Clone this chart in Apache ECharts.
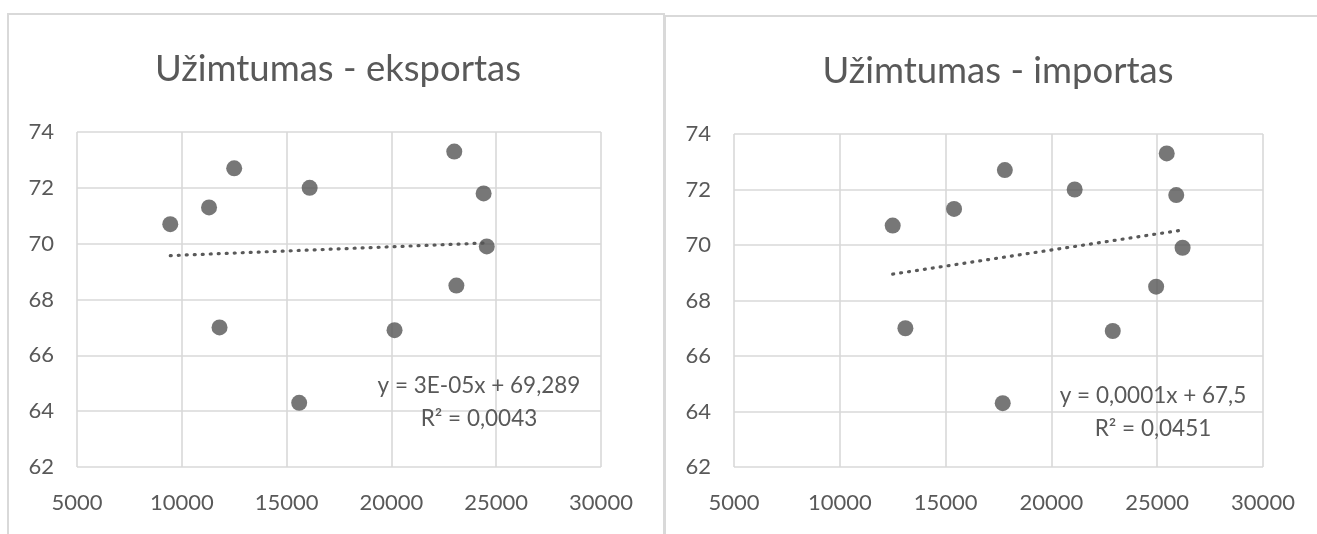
<!DOCTYPE html>
<html>
<head>
<meta charset="utf-8">
<script src="https://cdn.jsdelivr.net/npm/echarts@6/dist/echarts.min.js"></script>
<style>
  html, body { margin: 0; padding: 0; background: #ffffff; }
  #chart { width: 1317px; height: 534px; }
</style>
</head>
<body>
<div id="chart"></div>
<script>
// Employment rate (%) against export and import volumes, one point per year
const employment   = [70.7, 71.3, 72.7, 72.0, 67.0, 64.3, 73.3, 71.8, 69.9, 68.5, 66.9];
const exportValues = [9450, 11300, 12500, 16100, 11800, 15600, 23000, 24400, 24550, 23100, 20150];
const importValues = [12500, 15400, 17800, 21100, 13100, 17700, 25450, 25900, 26200, 24950, 22900];

const xTicks = [5000, 10000, 15000, 20000, 25000, 30000];
const yTicks = [62, 64, 66, 68, 70, 72, 74];

const chartTitles = ['Užimtumas - eksportas', 'Užimtumas - importas'];

// Linear trend: slope, intercept, R²
const exportTrend = [3e-5, 69.289, 0.0043];
const importTrend = [0.000116, 67.5, 0.0451];

const INK = '#595959';
const DOT = '#555555';
const GRID = '#d9d9d9';
const FONT = 'Lato, "Open Sans", sans-serif';

function fmtNum(v, digits) {
  let s = v.toFixed(digits);
  if (s.indexOf('.') >= 0) s = s.replace(/0+$/, '').replace(/\.$/, '');
  return s.replace('.', ',');
}
function fmtSlope(v) {
  if (Math.abs(v) < 1e-4) {
    const parts = v.toExponential(0).split('e');
    const e = parseInt(parts[1], 10);
    return parts[0] + 'E' + (e < 0 ? '-' : '+') + String(Math.abs(e)).padStart(2, '0');
  }
  return fmtNum(v, 4);
}
function equationText(t) {
  return 'y = ' + fmtSlope(t[0]) + 'x + ' + fmtNum(t[1], 3) + '\nR² = ' + fmtNum(t[2], 4);
}
function trendPoints(xs, t) {
  const lo = Math.min.apply(null, xs), hi = Math.max.apply(null, xs);
  return [[lo, t[0] * lo + t[1]], [hi, t[0] * hi + t[1]]];
}
function pairs(xs, ys) { return xs.map((x, i) => [x, ys[i]]); }

const xStep = xTicks[1] - xTicks[0];
const yStep = yTicks[1] - yTicks[0];

function xAxisFor(idx) {
  return {
    type: 'value', gridIndex: idx,
    min: xTicks[0], max: xTicks[xTicks.length - 1], interval: xStep,
    axisLine: { show: false }, axisTick: { show: false },
    splitLine: { show: true, lineStyle: { color: GRID, width: 1.6 } },
    axisLabel: { color: INK, fontSize: 22, fontFamily: FONT, margin: 25, formatter: v => String(v) }
  };
}
function yAxisFor(idx) {
  return {
    type: 'value', gridIndex: idx,
    min: yTicks[0], max: yTicks[yTicks.length - 1], interval: yStep,
    axisLine: { show: false }, axisTick: { show: false },
    splitLine: { show: true, lineStyle: { color: GRID, width: 1.6 } },
    axisLabel: { color: INK, fontSize: 22, fontFamily: FONT, margin: 23, formatter: v => String(v) }
  };
}
function trendSeries(idx, xs, t) {
  return {
    type: 'line', xAxisIndex: idx, yAxisIndex: idx,
    data: trendPoints(xs, t), symbol: 'none', silent: true,
    lineStyle: { color: INK, width: 3.2, type: [1, 7], cap: 'round' }, z: 2
  };
}
function pointSeries(idx, xs) {
  return {
    type: 'scatter', xAxisIndex: idx, yAxisIndex: idx,
    data: pairs(xs, employment), symbol: 'circle', symbolSize: 16,
    itemStyle: { color: DOT }, z: 3
  };
}

const titleStyle = { color: INK, fontSize: 36.5, fontWeight: 'normal', fontFamily: FONT };

const chart = echarts.init(document.getElementById('chart'), null, { renderer: 'canvas' });
chart.setOption({
  animation: false,
  backgroundColor: '#ffffff',
  title: [
    { text: chartTitles[0], left: 338, top: 69, padding: 0, textAlign: 'center', textVerticalAlign: 'middle', textStyle: titleStyle },
    { text: chartTitles[1], left: 998, top: 71, padding: 0, textAlign: 'center', textVerticalAlign: 'middle', textStyle: titleStyle }
  ],
  grid: [
    { left: 77, top: 132, width: 524, height: 335 },
    { left: 734, top: 134, width: 529, height: 333 }
  ],
  xAxis: [xAxisFor(0), xAxisFor(1)],
  yAxis: [yAxisFor(0), yAxisFor(1)],
  series: [
    trendSeries(0, exportValues, exportTrend),
    pointSeries(0, exportValues),
    trendSeries(1, importValues, importTrend),
    pointSeries(1, importValues)
  ],
  graphic: [
    // chart frames
    { type: 'rect', shape: { x: 8, y: 14, width: 656, height: 600 }, style: { fill: 'none', stroke: GRID, lineWidth: 2 }, z: 0, silent: true },
    { type: 'rect', shape: { x: 665, y: 16, width: 700, height: 600 }, style: { fill: 'none', stroke: GRID, lineWidth: 2 }, z: 0, silent: true },
    // trendline equations
    { type: 'text', x: 479, y: 402, z: 10, silent: true,
      style: { text: equationText(exportTrend), fill: INK, font: '22.5px ' + FONT, align: 'center', verticalAlign: 'middle', lineHeight: 33 } },
    { type: 'text', x: 1153, y: 412, z: 10, silent: true,
      style: { text: equationText(importTrend), fill: INK, font: '22.5px ' + FONT, align: 'center', verticalAlign: 'middle', lineHeight: 33 } }
  ]
});
</script>
</body>
</html>
